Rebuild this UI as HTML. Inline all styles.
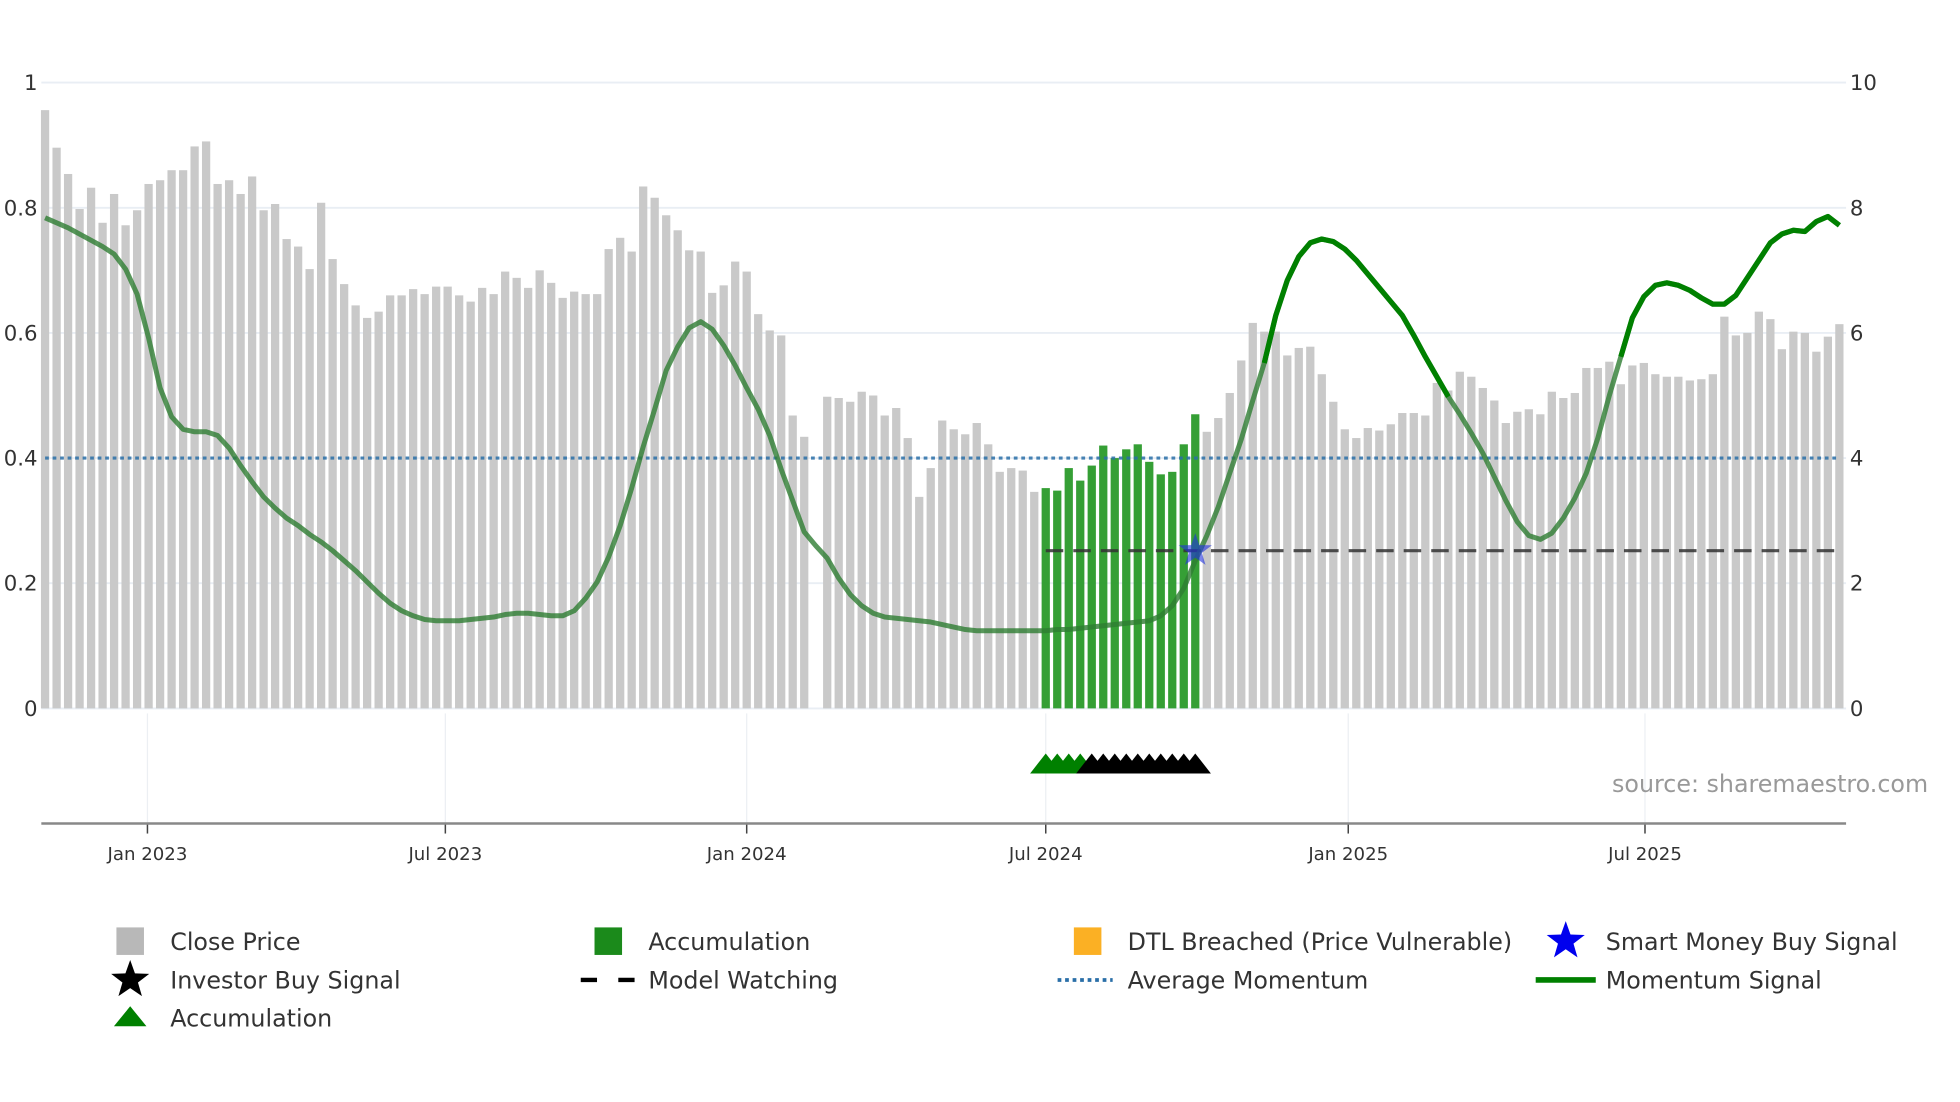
<!DOCTYPE html>
<html><head><meta charset="utf-8"><style>
html,body{margin:0;padding:0;background:#fff;}
svg{display:block;font-family:"DejaVu Sans","Liberation Sans",sans-serif;}
</style></head><body>
<svg id="chart" width="1960" height="1102" viewBox="0 0 1566 880.5" xmlns="http://www.w3.org/2000/svg"></svg>
<script>
// ---- data ----
const closePrice = [9.56,8.96,8.54,7.98,8.32,7.76,8.22,7.72,7.96,8.38,8.44,8.60,8.60,8.98,9.06,8.38,8.44,8.22,8.50,7.96,8.06,7.50,7.38,7.02,8.08,7.18,6.78,6.44,6.24,6.34,6.60,6.60,6.70,6.62,6.74,6.74,6.60,6.50,6.72,6.62,6.98,6.88,6.72,7.00,6.80,6.56,6.66,6.62,6.62,7.34,7.52,7.30,8.34,8.16,7.88,7.64,7.32,7.30,6.64,6.76,7.14,6.98,6.30,6.04,5.96,4.68,4.34,0,4.98,4.96,4.90,5.06,5.00,4.68,4.80,4.32,3.38,3.84,4.60,4.46,4.38,4.56,4.22,3.78,3.84,3.80,3.46,3.52,3.48,3.84,3.64,3.88,4.20,4.00,4.14,4.22,3.94,3.74,3.78,4.22,4.70,4.42,4.64,5.04,5.56,6.16,6.02,6.02,5.64,5.76,5.78,5.34,4.90,4.46,4.32,4.48,4.44,4.54,4.72,4.72,4.68,5.20,5.08,5.38,5.30,5.12,4.92,4.56,4.74,4.78,4.70,5.06,4.96,5.04,5.44,5.44,5.54,5.18,5.48,5.52,5.34,5.30,5.30,5.24,5.26,5.34,6.26,5.96,6.00,6.34,6.22,5.74,6.02,6.00,5.70,5.94,6.14];
const momentum = [0.784,0.776,0.768,0.758,0.748,0.738,0.726,0.702,0.662,0.592,0.512,0.466,0.446,0.442,0.442,0.436,0.416,0.388,0.362,0.338,0.320,0.304,0.292,0.278,0.266,0.252,0.236,0.220,0.202,0.184,0.168,0.156,0.148,0.142,0.140,0.140,0.140,0.142,0.144,0.146,0.150,0.152,0.152,0.150,0.148,0.148,0.156,0.176,0.202,0.242,0.292,0.352,0.418,0.478,0.540,0.578,0.608,0.618,0.606,0.580,0.548,0.512,0.478,0.436,0.382,0.332,0.282,0.260,0.240,0.208,0.182,0.164,0.152,0.146,0.144,0.142,0.140,0.138,0.134,0.130,0.126,0.124,0.124,0.124,0.124,0.124,0.124,0.124,0.126,0.126,0.128,0.130,0.132,0.134,0.136,0.138,0.140,0.148,0.164,0.192,0.236,0.276,0.322,0.376,0.430,0.492,0.552,0.628,0.684,0.722,0.744,0.750,0.746,0.734,0.716,0.694,0.672,0.650,0.628,0.596,0.562,0.530,0.498,0.470,0.440,0.408,0.370,0.332,0.298,0.276,0.270,0.280,0.304,0.336,0.376,0.432,0.500,0.562,0.624,0.658,0.676,0.680,0.676,0.668,0.656,0.646,0.646,0.660,0.688,0.716,0.744,0.758,0.764,0.762,0.778,0.786,0.772];
const accumStart = 87, accumEnd = 100;
const accumTriangles = [87,88,89,90];
const investorTriangles = [91,92,93,94,95,96,97,98,99,100];
const avgMomentum = 0.4;
const modelWatchLevel = 2.52; const modelWatchStart = 87;
const smartMoneyIdx = 100; const smartMoneyVal = 2.52;
const boldSegments = [[106,122],[137,156]];
const tickLabels = ["Jan 2023","Jul 2023","Jan 2024","Jul 2024","Jan 2025","Jul 2025"];
const tickWeeks = [8.9,34.8,61.0,87.0,113.3,139.1];
const leftTicks = [0,0.2,0.4,0.6,0.8,1];
const rightTicks = [0,2,4,6,8,10];

// ---- scales ----
const X0=36, STEP=9.19, YB=566, YT=66;
const xS=i=>X0+i*STEP;
const yL=v=>YB-(YB-YT)*v;
const yR=v=>YB-(YB-YT)*v/10;
const svg=document.getElementById('chart');
const NS='http://www.w3.org/2000/svg';
function mk(tag,attrs,parent){const e=document.createElementNS(NS,tag);for(const k in attrs)e.setAttribute(k,attrs[k]);(parent||svg).appendChild(e);return e;}

leftTicks.forEach((t,i)=>{
  const g=mk('line',{x1:33,x2:1475,y1:yL(t),y2:yL(t),stroke:'#e9eef4','stroke-width':1.5});
  
  
  const l=mk('text',{x:30,y:yL(t)+6,'text-anchor':'end','font-size':17,fill:'#333'});l.textContent=String(t);
  
  
  const r=mk('text',{x:1478,y:yR(rightTicks[i])+6,'font-size':17,fill:'#333'});r.textContent=String(rightTicks[i]);
  
  
});
tickWeeks.forEach((w,i)=>{
  const x=xS(w);
  const g=mk('line',{x1:x,x2:x,y1:570,y2:658,stroke:'#eceff3','stroke-width':1});
  
  
  const tk=mk('line',{x1:x,x2:x,y1:658,y2:666,stroke:'#444','stroke-width':1.2});
  
  
  const t=mk('text',{x:x,y:687,'text-anchor':'middle','font-size':14.5,fill:'#333'});t.textContent=tickLabels[i];
  
  
});
const ax=mk('line',{x1:33,x2:1475,y1:658,y2:658,stroke:'#888','stroke-width':2});



closePrice.forEach((v,i)=>{
  if(!v)return;
  const acc=i>=accumStart&&i<=accumEnd;
  const b=mk('rect',{x:xS(i)-3.3,y:yR(v),width:6.6,height:YB-yR(v),fill:acc?'#2a9a2a':'#c9c9c9',opacity:acc?0.95:1});
  
  
});

const am=mk('line',{x1:xS(0),x2:xS(closePrice.length-1),y1:yL(avgMomentum),y2:yL(avgMomentum),stroke:'#2a6fa8','stroke-width':2.5,'stroke-dasharray':'3 3',opacity:0.85});


const mw=mk('line',{x1:xS(modelWatchStart),x2:xS(closePrice.length-1),y1:yR(modelWatchLevel),y2:yR(modelWatchLevel),stroke:'#333','stroke-width':2.5,'stroke-dasharray':'14 8',opacity:0.85});



function pts(a,b){let s='';for(let i=a;i<=b;i++)s+=xS(i)+','+yL(momentum[i])+' ';return s;}
const ml=mk('polyline',{points:pts(0,momentum.length-1),fill:'none',stroke:'#2e7d32','stroke-width':4,opacity:0.8,'stroke-linejoin':'round'});


boldSegments.forEach(s=>{
  const p=mk('polyline',{points:pts(s[0],s[1]),fill:'none',stroke:'#008000','stroke-width':4.2,'stroke-linejoin':'round'});
  
  
});

function starPath(cx,cy,R,r){let d='';for(let k=0;k<10;k++){const a=-Math.PI/2+k*Math.PI/5;const rr=k%2?r:R;d+=(k?'L':'M')+(cx+rr*Math.cos(a)).toFixed(1)+','+(cy+rr*Math.sin(a)).toFixed(1);}return d+'Z';}
const st=mk('path',{d:starPath(xS(smartMoneyIdx),yR(smartMoneyVal),14,5.5),fill:'#2030e0',opacity:0.6});



function tri(i,color,name){
  const x=xS(i);
  const t=mk('polygon',{points:`${x-12.5},618 ${x},602 ${x+12.5},618`,fill:color});
  
  
}
accumTriangles.forEach(i=>tri(i,'#008000','accumulation-triangle'));
investorTriangles.forEach(i=>tri(i,'#000','investor-buy-triangle'));

const src=mk('text',{x:1288,y:633,'font-size':19,fill:'#999'});src.textContent='source: sharemaestro.com';



const leg=[
 [104,752,'sq','#b8b8b8','Close Price'],[486,752,'sq','#1b8a1b','Accumulation'],[869,752,'sq','#fbb024','DTL Breached (Price Vulnerable)'],[1251,752,'star','#0000ee','Smart Money Buy Signal'],
 [104,783,'star','#000','Investor Buy Signal'],[486,783,'dash','#000','Model Watching'],[869,783,'dot','#2a6fa8','Average Momentum'],[1251,783,'line','#008000','Momentum Signal'],
 [104,813,'tri','#008000','Accumulation']];
leg.forEach(e=>{
  const [x,y,k,c,txt]=e;
  const g=mk('g',{});
  
  
  if(k==='sq')mk('rect',{x:x-11,y:y-11,width:22,height:22,fill:c},g);
  if(k==='star')mk('path',{d:starPath(x,y,16,6.5),fill:c},g);
  if(k==='tri')mk('polygon',{points:`${x-13},${y+7} ${x},${y-9} ${x+13},${y+7}`,fill:c},g);
  if(k==='dash')mk('line',{x1:x-22,x2:x+22,y1:y,y2:y,stroke:c,'stroke-width':3.5,'stroke-dasharray':'13 17'},g);
  if(k==='dot')mk('line',{x1:x-24,x2:x+20,y1:y,y2:y,stroke:c,'stroke-width':3,'stroke-dasharray':'3 3'},g);
  if(k==='line')mk('line',{x1:x-24,x2:x+24,y1:y,y2:y,stroke:c,'stroke-width':4.5},g);
  const t=mk('text',{x:x+32,y:y+7,'font-size':19,fill:'#333'},g);t.textContent=txt;
});
</script>
</body></html>
